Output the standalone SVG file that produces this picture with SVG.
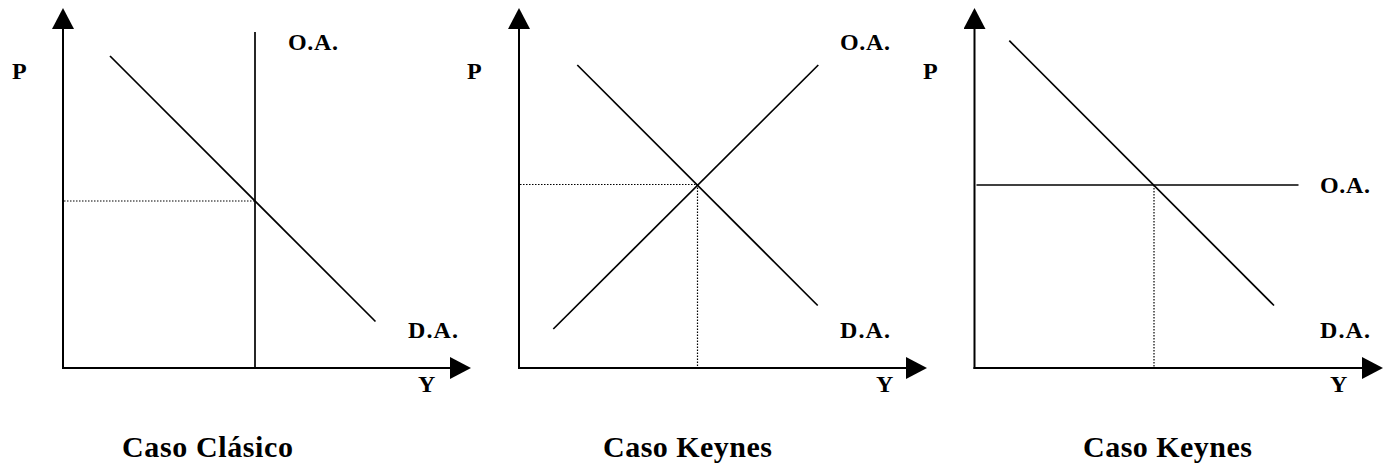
<svg xmlns="http://www.w3.org/2000/svg" width="1392" height="464" viewBox="0 0 1392 464">
<defs>
<marker id="arr" markerUnits="userSpaceOnUse" markerWidth="21" markerHeight="22" refX="0" refY="11" orient="auto" viewBox="0 0 21 22">
<path d="M0,0 L21,11 L0,22 z" fill="#000"/>
</marker>
</defs>
<style>
.axis{stroke:#000;stroke-width:2;fill:none}
.curve{stroke:#000;stroke-width:1.7;fill:none}
.dot{stroke:#000;stroke-width:1.2;stroke-dasharray:1.5 1.5;fill:none}
.lbl{font-family:"Liberation Serif",serif;font-weight:bold;font-size:24px;fill:#000}
.ttl{font-family:"Liberation Serif",serif;font-weight:bold;font-size:30px;fill:#000}
</style>
<rect width="1392" height="464" fill="#fff"/>
<g id="panel-clasico">
<line class="axis" x1="63" y1="369" x2="63" y2="29" marker-end="url(#arr)"/>
<line class="axis" x1="62" y1="368" x2="450" y2="368" marker-end="url(#arr)"/>
<line class="dot" x1="64" y1="201" x2="255" y2="201"/>
<line class="curve" x1="255" y1="32" x2="255" y2="368"/>
<line class="curve" x1="110" y1="56" x2="375.5" y2="321.5"/>
<text class="lbl" x="12" y="79">P</text>
<text class="lbl" x="288" y="50" textLength="50">O.A.</text>
<text class="lbl" x="408" y="338" textLength="50">D.A.</text>
<text class="lbl" x="418" y="392">Y</text>
<text class="ttl" x="122" y="457" textLength="171">Caso Clásico</text>
</g>
<g id="panel-keynes1">
<line class="axis" x1="519" y1="369" x2="519" y2="29" marker-end="url(#arr)"/>
<line class="axis" x1="518" y1="368" x2="906" y2="368" marker-end="url(#arr)"/>
<line class="dot" x1="520" y1="184.5" x2="697.5" y2="184.5"/>
<line class="dot" x1="697.5" y1="184.5" x2="697.5" y2="367"/>
<line class="curve" x1="553.3" y1="329" x2="818.3" y2="65"/>
<line class="curve" x1="577.3" y1="65" x2="817.7" y2="305.5"/>
<text class="lbl" x="467" y="79">P</text>
<text class="lbl" x="840" y="50" textLength="50">O.A.</text>
<text class="lbl" x="840" y="338" textLength="50">D.A.</text>
<text class="lbl" x="876" y="392">Y</text>
<text class="ttl" x="603" y="457" textLength="169">Caso Keynes</text>
</g>
<g id="panel-keynes2">
<line class="axis" x1="974.5" y1="369" x2="974.5" y2="29" marker-end="url(#arr)"/>
<line class="axis" x1="973.5" y1="368" x2="1362" y2="368" marker-end="url(#arr)"/>
<line class="dot" x1="1154" y1="185" x2="1154" y2="367"/>
<line class="curve" x1="976.5" y1="185" x2="1298.5" y2="185"/>
<line class="curve" x1="1009.3" y1="40.7" x2="1274" y2="305.5"/>
<text class="lbl" x="923" y="79">P</text>
<text class="lbl" x="1320" y="193" textLength="50">O.A.</text>
<text class="lbl" x="1320" y="338" textLength="50">D.A.</text>
<text class="lbl" x="1330" y="392">Y</text>
<text class="ttl" x="1083" y="457" textLength="169">Caso Keynes</text>
</g>
<g id="connectors"></g>
</svg>
